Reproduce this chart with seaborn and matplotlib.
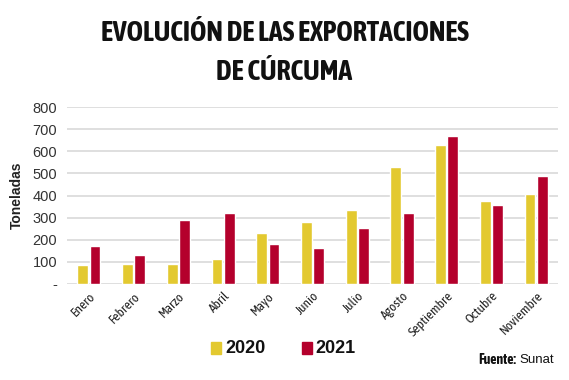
import numpy as np
import pandas as pd
import seaborn as sns
import matplotlib.pyplot as plt
from matplotlib import font_manager
from matplotlib import patheffects as pe
from matplotlib.patches import Rectangle

# ─────────────────────────────────────────
# DATA
# ─────────────────────────────────────────
MESES = ["Enero", "Febrero", "Marzo", "Abril", "Mayo", "Junio",
         "Julio", "Agosto", "Septiembre", "Octubre", "Noviembre"]
T_2020 = [88, 91, 92, 115, 230, 282, 335, 530, 630, 376, 405]
T_2021 = [174, 131, 290, 319, 181, 163, 255, 320, 671, 355, 486]
ANIOS = ["2020", "2021"]
Y_TICKS = [0, 100, 200, 300, 400, 500, 600, 700, 800]
Y_LABELS = ["-", "100", "200", "300", "400", "500", "600", "700", "800"]

COLORES = {"2020": "#E3C930", "2021": "#B4002C"}

# buscar alguna fuente condensada instalada (mejor si tiene negrita)
def _peso(w):
    return w if isinstance(w, int) else font_manager.weight_dict.get(w, 400)

cands = [f for f in font_manager.fontManager.ttflist
         if "Condensed" in f.name or "Narrow" in f.name]
negritas = sorted({f.name for f in cands if _peso(f.weight) >= 600})
todas = sorted({f.name for f in cands})
COND = (negritas[:1] or todas[:1]) + ["DejaVu Sans"]
HAY_NEGRITA = bool(negritas)

df = pd.DataFrame({
    "mes": MESES * 2,
    "anio": ["2020"] * len(MESES) + ["2021"] * len(MESES),
    "toneladas": T_2020 + T_2021,
})

sns.set_theme(style="white")
plt.rcParams["font.family"] = ["Liberation Sans", "DejaVu Sans"]

fig = plt.figure(figsize=(5.69, 3.80), dpi=100)
ax = fig.add_axes([0.1178, 0.2526, 0.8629, 0.4658])

sns.barplot(data=df, x="mes", y="toneladas", hue="anio", order=MESES,
            hue_order=ANIOS, palette=COLORES, width=0.55, gap=0.12,
            saturation=1, legend=False, ax=ax)

ax.set_ylim(0, 800)
ax.set_xlim(-0.49, 10.49)
ax.set_yticks(Y_TICKS)
ax.set_yticklabels(Y_LABELS, fontsize=10.5, color="#333333")
ax.yaxis.grid(True, color="#d9d9d9", lw=1.2)
ax.set_axisbelow(True)
for s in ax.spines.values():
    s.set_visible(False)
ax.tick_params(axis="both", length=0)
ax.tick_params(axis="y", pad=7)

ax.set_xticks(range(len(MESES)))
ax.set_xticklabels(MESES, rotation=45, ha="right", rotation_mode="anchor",
                   fontsize=9.5, color="#222222", family=COND)
ax.tick_params(axis="x", pad=4)
ax.set_xlabel("")
ax.set_ylabel("Toneladas", fontsize=10, fontweight="bold", color="#222222",
              labelpad=6)

# título (ajustar tamaño al ancho del original, ~367 px)
trazo = [] if HAY_NEGRITA else [pe.withStroke(linewidth=1.6, foreground="#111111")]
t1 = fig.text(0.50, 0.913, "EVOLUCIÓN DE LAS EXPORTACIONES", ha="center",
              va="center", fontsize=20, fontweight="bold", family=COND,
              color="#111111", path_effects=trazo)
t2 = fig.text(0.50, 0.81, "DE CÚRCUMA", ha="center", va="center",
              fontsize=20, fontweight="bold", family=COND, color="#111111",
              path_effects=trazo)
r = fig.canvas.get_renderer()
ancho = t1.get_window_extent(renderer=r).width
fs = 20 * 367 / ancho
t1.set_fontsize(fs)
t2.set_fontsize(fs)

# leyenda
for anio, x0 in zip(ANIOS, [0.371, 0.530]):
    fig.patches.append(Rectangle((x0, 0.068), 0.0175, 0.032, color=COLORES[anio],
                                 transform=fig.transFigure, figure=fig))
    fig.text(x0 + 0.025, 0.083, anio, ha="left", va="center", fontsize=13,
             fontweight="bold", color="#111111")

fig.text(0.907, 0.053, "Fuente:", ha="right", va="center", fontsize=10,
         fontweight="bold", family=COND, color="#111111")
fig.text(0.912, 0.053, "Sunat", ha="left", va="center", fontsize=9.5,
         color="#111111")

plt.savefig("out.png", dpi=100)
